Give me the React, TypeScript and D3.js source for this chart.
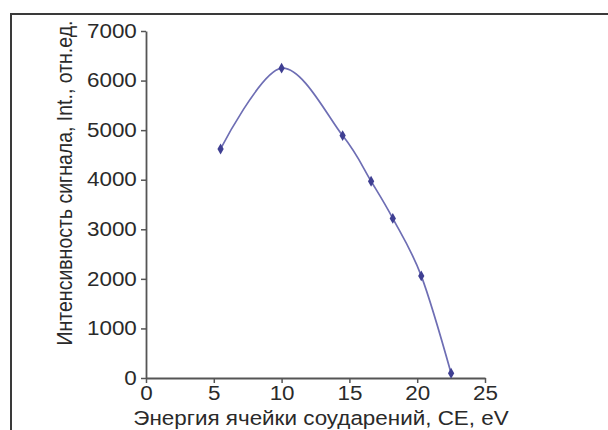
import { useEffect, useRef } from "react";
import * as d3 from "d3";

// collision energy, eV
const energy = [5.5, 10, 14.5, 16.6, 18.2, 20.3, 22.5];
// signal intensity, rel. units
const intensity = [4620, 6250, 4890, 3970, 3220, 2060, 95];

const xTicks = [0, 5, 10, 15, 20, 25];
const yTicks = [0, 1000, 2000, 3000, 4000, 5000, 6000, 7000];

const xTitle = "Энергия ячейки соударений, CE, eV";
const yTitle = "Интенсивность сигнала, Int., отн.ед.";

const App = () => {
  const svgRef = useRef<SVGSVGElement>(null);

  useEffect(() => {
    const svg = d3.select(svgRef.current);
    svg.selectAll("*").remove();

    const font = "'Liberation Sans', Arial, sans-serif";
    const textColor = "#2a2a2a";
    const axisColor = "#555";
    const fs = "19.5px";
    const stretch = "scale(1.15,1)"; // the scan is a bit wider than tall

    const x = d3.scaleLinear().domain([0, 25]).range([146, 485]);
    const y = d3.scaleLinear().domain([0, 7000]).range([378, 31]);

    const pts = energy.map((e, i) => [e, intensity[i]] as [number, number]);

    // frame (only top and left edges are visible in the crop)
    svg.append("line")
      .attr("x1", 11).attr("x2", 608).attr("y1", 14).attr("y2", 14)
      .attr("stroke", "#3a3a3a").attr("stroke-width", 2);
    svg.append("line")
      .attr("x1", 11).attr("x2", 11).attr("y1", 13).attr("y2", 430)
      .attr("stroke", "#3a3a3a").attr("stroke-width", 2);

    const xAxis = svg.append("g")
      .attr("transform", `translate(0,${y(0)})`)
      .call(d3.axisBottom(x).tickValues(xTicks).tickFormat(d3.format("d"))
        .tickSize(5).tickSizeOuter(0).tickPadding(3));
    const yAxis = svg.append("g")
      .attr("transform", `translate(${x(0)},0)`)
      .call(d3.axisLeft(y).tickValues(yTicks).tickFormat(d3.format("d"))
        .tickSize(5).tickSizeOuter(0).tickPadding(3));

    [xAxis, yAxis].forEach((ax) => {
      ax.select(".domain").attr("stroke", axisColor).attr("stroke-width", 1.8);
      ax.selectAll(".tick line").attr("stroke", axisColor).attr("stroke-width", 1.5);
      ax.selectAll("text")
        .attr("transform", stretch)
        .style("font-family", font)
        .style("font-size", fs)
        .attr("fill", textColor);
    });

    svg.append("text")
      .attr("transform", `translate(321,425) ${stretch}`)
      .attr("text-anchor", "middle")
      .style("font-family", font)
      .style("font-size", fs)
      .attr("fill", textColor)
      .text(xTitle);

    svg.append("text")
      .attr("transform", `translate(72,183) ${stretch} rotate(-90)`)
      .attr("text-anchor", "middle")
      .style("font-family", font)
      .style("font-size", fs)
      .attr("fill", textColor)
      .text(yTitle);

    const line = d3.line<[number, number]>()
      .x((d) => x(d[0]))
      .y((d) => y(d[1]))
      .curve(d3.curveCardinal.tension(0));

    svg.append("path")
      .datum(pts)
      .attr("fill", "none")
      .attr("stroke", "#6e6eb4")
      .attr("stroke-width", 1.7)
      .attr("d", line);

    const diamond = d3.symbol(d3.symbolDiamond, 34);
    svg.selectAll(".dot")
      .data(pts)
      .enter()
      .append("path")
      .attr("d", diamond)
      .attr("transform", (d) => `translate(${x(d[0])},${y(d[1])})`)
      .attr("fill", "#3f3f92");
  }, []);

  return (
    <svg
      ref={svgRef}
      width={608}
      height={430}
      style={{ position: "absolute", left: 0, top: 0, background: "#fff" }}
    />
  );
};

export default App;
